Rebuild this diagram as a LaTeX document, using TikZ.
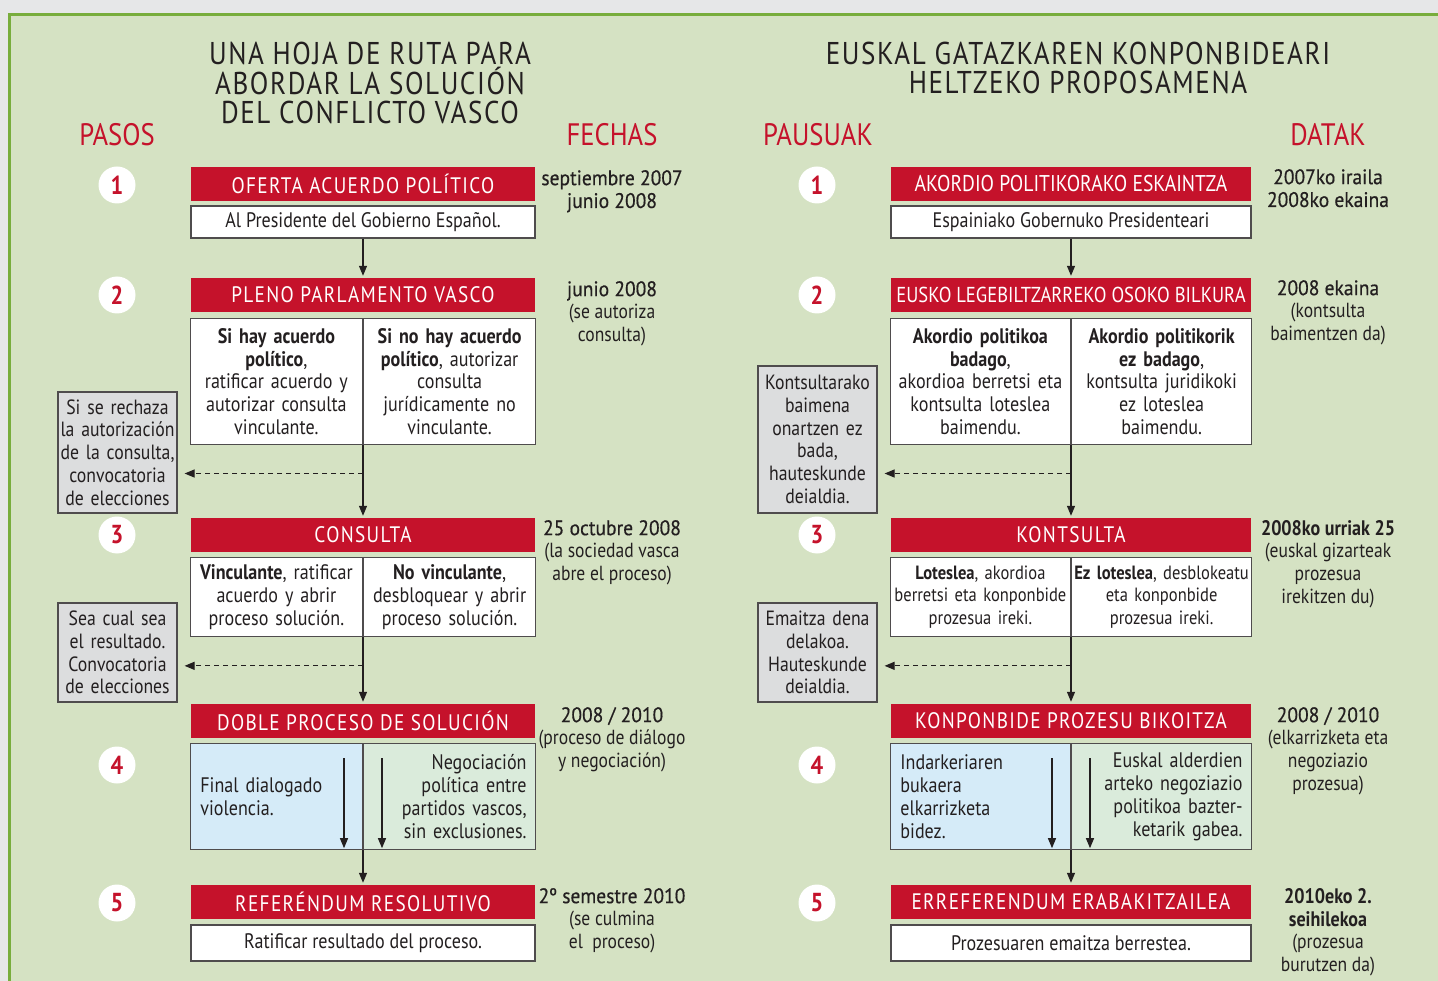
\documentclass[tikz,border=0pt]{standalone}
\usepackage{fontspec}
\setmainfont[FakeStretch=0.86]{PT Sans}
\newfontfamily\barfamily[FakeStretch=0.86,LetterSpace=6]{PT Sans}
\newfontfamily\tightbarfamily[FakeStretch=0.86,LetterSpace=0]{PT Sans}
\newfontfamily\titlefamily[FakeStretch=0.86,LetterSpace=5]{PT Sans}
\newfontfamily\datefamily[FakeStretch=0.93,FakeBold=0.5]{PT Sans}
\usetikzlibrary{arrows.meta}
\definecolor{page gray}{HTML}{E6E7E8}
\definecolor{frame green}{HTML}{78AD3C}
\definecolor{panel green}{HTML}{D5E2C3}
\definecolor{bar red}{HTML}{C5122B}
\definecolor{side gray}{HTML}{DCDDDE}
\definecolor{talk blue}{HTML}{D5EBF8}
\definecolor{talk green}{HTML}{DAEBDB}
\definecolor{ink}{HTML}{231F20}
\colorlet{box edge}{ink!80}
\newcommand\boxfont{\fontsize{21}{22.8}\selectfont}
\newcommand\datehead[1]{{\datefamily\fontsize{21}{22.8}\selectfont #1}}
\tikzset{
	title/.style={font=\titlefamily\fontsize{31.5}{29.5}\selectfont, align=center, text=ink, inner sep=0pt},
	colhead/.style={font=\fontsize{31}{31}\selectfont, text=bar red, inner sep=0pt},
	stepnum/.style={circle, fill=white, minimum size=37pt, inner sep=0pt, text=bar red, font=\bfseries\fontsize{26}{26}\selectfont},
	bar/.style={fill=bar red, text=white, minimum height=34pt, inner sep=0pt, font=\barfamily\fontsize{22.4}{24}\selectfont},
	box/.style={draw=box edge, line width=1.2pt, fill=white, text=ink, align=center, inner sep=0pt, font=\boxfont},
	half/.style={box, minimum width=172pt, text width=168pt},
	wide/.style={box, minimum width=180pt, text width=176pt},
	side/.style={draw=box edge, line width=1.2pt, fill=side gray, text=ink, minimum width=119pt, text width=115pt, align=center, inner sep=0pt, font=\fontsize{20.6}{22.8}\selectfont},
	date/.style={anchor=north, align=center, text=ink, inner sep=0pt, font=\fontsize{20.4}{22.8}\selectfont},
	flow/.style={-{Triangle[length=10pt,width=8pt]}, line width=1.2pt, draw=ink, shorten >=2pt},
	dashflow/.style={flow, dash pattern=on 5pt off 4pt, shorten >=7pt}
}
\begin{document}
\begin{tikzpicture}[x=1pt,y=-1pt]
\useasboundingbox (0,0) rectangle (1438,981);
\fill[page gray] (0,0) rectangle (1438,981);
\draw[line width=3pt, draw=frame green, fill=panel green] (9,14.5) rectangle (1460,1000);

% titles and column heads
\node[title] (titlees) at (370,83) {UNA HOJA DE RUTA PARA\\ABORDAR LA SOLUCIÓN\\DEL CONFLICTO VASCO};
\node[title] (titleeu) at (1078,68) {EUSKAL GATAZKAREN KONPONBIDEARI\\HELTZEKO PROPOSAMENA};
\node[colhead] (pasos) at (117,135) {PASOS};
\node[colhead] (fechas) at (612,135) {FECHAS};
\node[colhead] (pausuak) at (818,135) {PAUSUAK};
\node[colhead] (datak) at (1328,135) {DATAK};

\foreach \n/\y in {1/185,2/295,3/535,4/765,5/903}{
	\node[stepnum] (nl\n) at (117,\y) {\n};
	\node[stepnum] (nr\n) at (817,\y) {\n};
}

% castellano
\node[bar, minimum width=344pt] (bar1) at (363,184) {OFERTA ACUERDO POLÍTICO};
\node[box, minimum width=344pt, minimum height=32pt] (b1) at (363,222) {Al Presidente del Gobierno Español.};
\node[bar, minimum width=344pt] (bar2) at (363,295) {PLENO PARLAMENTO VASCO};
\node[half, minimum height=126pt, anchor=north east] (b2l) at (363,318) {\textbf{Si hay acuerdo}\\\textbf{político},\\ratificar acuerdo y\\autorizar consulta\\vinculante.};
\node[half, minimum height=126pt, anchor=north west] (b2r) at (363,318) {\textbf{Si no hay acuerdo}\\\textbf{político}, autorizar\\consulta\\jurídicamente no\\vinculante.};
\node[bar, minimum width=344pt] (bar3) at (363,535) {CONSULTA};
\node[half, minimum height=79pt, anchor=north east] (b3l) at (363,557) {\textbf{Vinculante}, ratificar\\acuerdo y abrir\\proceso solución.};
\node[half, minimum height=79pt, anchor=north west] (b3r) at (363,557) {\textbf{No vinculante},\\desbloquear y abrir\\proceso solución.};
\node[bar, minimum width=344pt] (bar4) at (363,721) {DOBLE PROCESO DE SOLUCIÓN};
\node[half, fill=talk blue, text width=152pt, align=left, minimum height=106pt, anchor=north east] (b4l) at (363,743) {Final dialogado\\violencia.};
\node[half, fill=talk green, text width=154pt, align=right, minimum height=106pt, anchor=north west] (b4r) at (363,743) {Negociación\\política entre\\partidos vascos,\\sin exclusiones.};
\node[bar, minimum width=344pt] (bar5) at (363,902) {REFERÉNDUM RESOLUTIVO};
\node[box, minimum width=344pt, minimum height=36pt] (b5) at (363,943) {Ratificar resultado del proceso.};

\node[side, minimum height=121pt] (g1) at (117.5,452.5) {Si se rechaza\\la autorización\\de la consulta,\\convocatoria\\de elecciones};
\node[side, minimum height=99pt] (g2) at (117.5,652.5) {Sea cual sea\\el resultado.\\Convocatoria\\de elecciones};

\draw[flow] (b1) -- (bar2);
\draw[flow] (b2l.south east) -- (bar3.north);
\path (b2l.south east) -- (bar3.north) coordinate[pos=0.39] (j2);
\draw[dashflow] (j2) -- (g1.east |- j2);
\draw[flow] (b3l.south east) -- (bar4.north);
\path (b3l.south east) -- (bar4.north) coordinate[pos=0.43] (j3);
\draw[dashflow] (j3) -- (g2.east |- j3);
\draw[flow] ([xshift=-19pt,yshift=-15pt]b4l.north east) -- ([xshift=-19pt,yshift=0pt]b4l.south east);
\draw[flow] ([xshift=19pt,yshift=-15pt]b4r.north west) -- ([xshift=19pt,yshift=0pt]b4r.south west);
\draw[flow] (b4l.south east) -- (bar5.north);

\node[date] (d1) at (612,170) {\datehead{septiembre 2007}\\\datehead{junio 2008}};
\node[date] (d2) at (612,281) {\datehead{junio 2008}\\(se autoriza\\consulta)};
\node[date] (d3) at (612,520) {\datehead{25 octubre 2008}\\(la sociedad vasca\\abre el proceso)};
\node[date] (d4) at (612,707) {\datehead{2008 / 2010}\\(proceso de diálogo\\y negociación)};
\node[date] (d5) at (612,888) {\datehead{2º semestre 2010}\\(se culmina\\el~~proceso)};

% euskara
\node[bar, minimum width=360pt, font=\tightbarfamily\fontsize{22.8}{24}\selectfont] (ebar1) at (1071,184) {AKORDIO POLITIKORAKO ESKAINTZA};
\node[box, minimum width=360pt, minimum height=32pt] (e1) at (1071,222) {Espainiako Gobernuko Presidenteari};
\node[bar, minimum width=360pt, font=\tightbarfamily\fontsize{21.6}{24}\selectfont] (ebar2) at (1071,295) {EUSKO LEGEBILTZARREKO OSOKO BILKURA};
\node[wide, minimum height=126pt, anchor=north east] (e2l) at (1071,318) {\textbf{Akordio politikoa}\\\textbf{badago},\\akordioa berretsi eta\\kontsulta loteslea\\baimendu.};
\node[wide, minimum height=126pt, anchor=north west] (e2r) at (1071,318) {\textbf{Akordio politikorik}\\\textbf{ez badago},\\kontsulta juridikoki\\ez loteslea\\baimendu.};
\node[bar, minimum width=360pt] (ebar3) at (1071,535) {KONTSULTA};
\node[wide, minimum height=79pt, anchor=north east, font=\fontsize{19.2}{22.8}\selectfont] (e3l) at (1071,557) {\textbf{Loteslea}, akordioa\\berretsi eta konponbide\\prozesua ireki.};
\node[wide, minimum height=79pt, anchor=north west, font=\fontsize{19.2}{22.8}\selectfont] (e3r) at (1071,557) {\textbf{Ez loteslea}, desblokeatu\\eta konponbide\\prozesua ireki.};
\node[bar, minimum width=360pt] (ebar4) at (1071,721) {KONPONBIDE PROZESU BIKOITZA};
\node[wide, fill=talk blue, text width=160pt, align=left, minimum height=106pt, anchor=north east] (e4l) at (1071,743) {Indarkeriaren\\bukaera\\elkarrizketa\\bidez.};
\node[wide, fill=talk green, text width=162pt, align=right, minimum height=106pt, anchor=north west] (e4r) at (1071,743) {Euskal alderdien\\arteko negoziazio\\politikoa bazter-\\ketarik gabea.};
\node[bar, minimum width=360pt] (ebar5) at (1071,902) {ERREFERENDUM ERABAKITZAILEA};
\node[box, minimum width=360pt, minimum height=36pt] (e5) at (1071,943) {Prozesuaren emaitza berrestea.};

\node[side, minimum height=147pt] (g3) at (817.5,439.5) {Kontsultarako\\baimena\\onartzen ez\\bada,\\hauteskunde\\deialdia.};
\node[side, minimum height=99pt] (g4) at (817.5,652.5) {Emaitza dena\\delakoa.\\Hauteskunde\\deialdia.};

\draw[flow] (e1) -- (ebar2);
\draw[flow] (e2l.south east) -- (ebar3.north);
\path (e2l.south east) -- (ebar3.north) coordinate[pos=0.39] (k2);
\draw[dashflow] (k2) -- (g3.east |- k2);
\draw[flow] (e3l.south east) -- (ebar4.north);
\path (e3l.south east) -- (ebar4.north) coordinate[pos=0.43] (k3);
\draw[dashflow] (k3) -- (g4.east |- k3);
\draw[flow] ([xshift=-19pt,yshift=-15pt]e4l.north east) -- ([xshift=-19pt,yshift=0pt]e4l.south east);
\draw[flow] ([xshift=19pt,yshift=-15pt]e4r.north west) -- ([xshift=19pt,yshift=0pt]e4r.south west);
\draw[flow] (e4l.south east) -- (ebar5.north);

\node[date] (t1) at (1328,169) {\datehead{2007ko iraila}\\\datehead{2008ko ekaina}};
\node[date] (t2) at (1328,280) {\datehead{2008 ekaina}\\(kontsulta\\baimentzen da)};
\node[date] (t3) at (1328,520) {{\bfseries\fontsize{21}{22.8}\selectfont 2008ko urriak 25}\\(euskal gizarteak\\prozesua\\irekitzen du)};
\node[date] (t4) at (1328,707) {\datehead{2008 / 2010}\\(elkarrizketa eta\\negoziazio\\prozesua)};
\node[date] (t5) at (1328,888) {{\bfseries\fontsize{21}{22.8}\selectfont 2010eko 2.}\\{\bfseries\fontsize{21}{22.8}\selectfont seihilekoa}\\(prozesua\\burutzen da)};
\end{tikzpicture}
\end{document}
